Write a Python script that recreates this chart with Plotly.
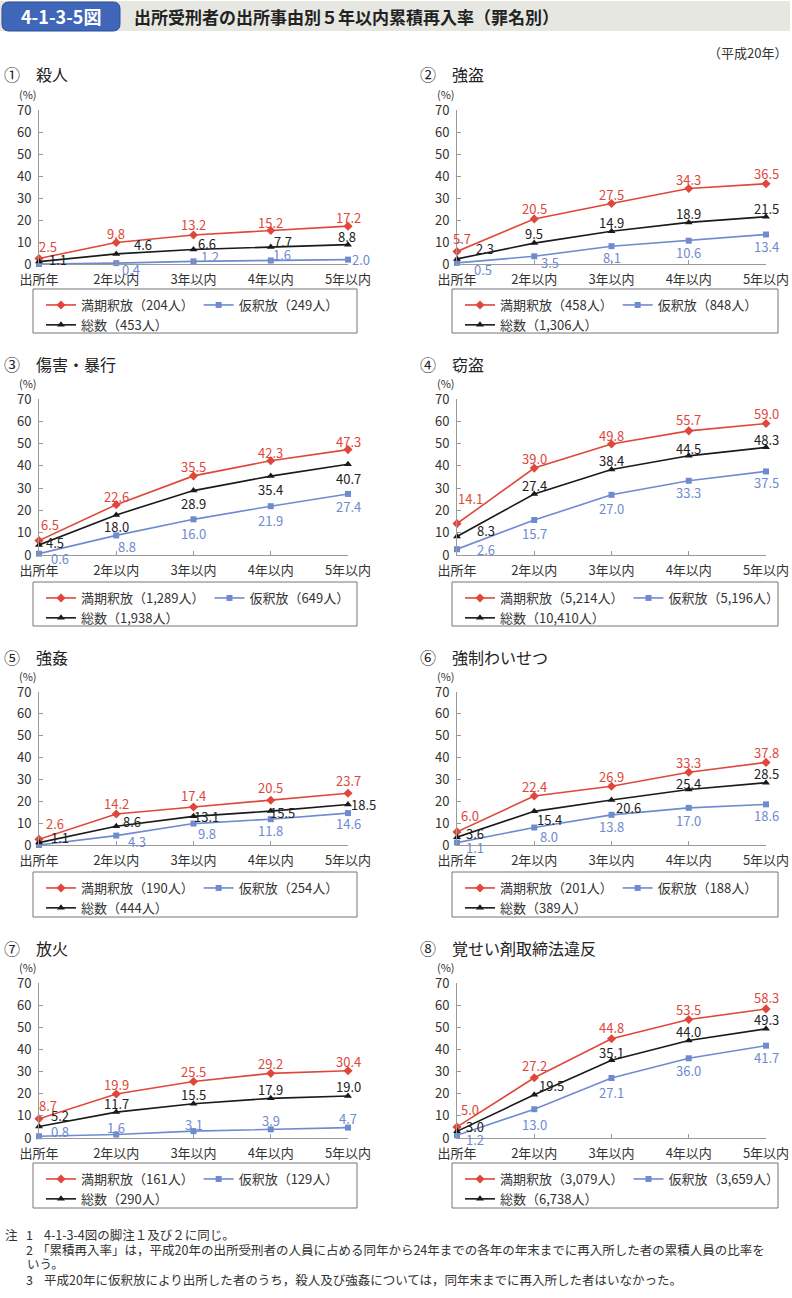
import plotly.graph_objects as go

W, H = 792, 1298
FONT = "Noto Sans CJK JP, Noto Sans, sans-serif"

# ---------------- data ----------------
categories = ["出所年", "2年以内", "3年以内", "4年以内", "5年以内"]

panel_titles = ["①　殺人", "②　強盗", "③　傷害・暴行", "④　窃盗",
                "⑤　強姦", "⑥　強制わいせつ", "⑦　放火", "⑧　覚せい剤取締法違反"]

manki_n = ["204", "458", "1,289", "5,214", "190", "201", "161", "3,079"]
kari_n = ["249", "848", "649", "5,196", "254", "188", "129", "3,659"]
total_n = ["453", "1,306", "1,938", "10,410", "444", "389", "290", "6,738"]

manki = [
    [2.5, 9.8, 13.2, 15.2, 17.2],
    [5.7, 20.5, 27.5, 34.3, 36.5],
    [6.5, 22.6, 35.5, 42.3, 47.3],
    [14.1, 39.0, 49.8, 55.7, 59.0],
    [2.6, 14.2, 17.4, 20.5, 23.7],
    [6.0, 22.4, 26.9, 33.3, 37.8],
    [8.7, 19.9, 25.5, 29.2, 30.4],
    [5.0, 27.2, 44.8, 53.5, 58.3],
]
kari = [
    [0.0, 0.4, 1.2, 1.6, 2.0],
    [0.5, 3.5, 8.1, 10.6, 13.4],
    [0.6, 8.8, 16.0, 21.9, 27.4],
    [2.6, 15.7, 27.0, 33.3, 37.5],
    [0.0, 4.3, 9.8, 11.8, 14.6],
    [1.1, 8.0, 13.8, 17.0, 18.6],
    [0.8, 1.6, 3.1, 3.9, 4.7],
    [1.2, 13.0, 27.1, 36.0, 41.7],
]
total = [
    [1.1, 4.6, 6.6, 7.7, 8.8],
    [2.3, 9.5, 14.9, 18.9, 21.5],
    [4.5, 18.0, 28.9, 35.4, 40.7],
    [8.3, 27.4, 38.4, 44.5, 48.3],
    [1.1, 8.6, 13.1, 15.5, 18.5],
    [3.6, 15.4, 20.6, 25.4, 28.5],
    [5.2, 11.7, 15.5, 17.9, 19.0],
    [3.0, 19.5, 35.1, 44.0, 49.3],
]
# points whose value label is not printed (no re-entry: note 3)
kari_hidden = [(0, 0), (4, 0)]

y_ticks = [0, 10, 20, 30, 40, 50, 60, 70]

notes = [
    ("注", "1", "4-1-3-4図の脚注１及び２に同じ。"),
    ("", "2", "「累積再入率」は，平成20年の出所受刑者の人員に占める同年から24年までの各年の年末までに再入所した者の累積人員の比率を"),
    ("", "", "いう。"),
    ("", "3", "平成20年に仮釈放により出所した者のうち，殺人及び強姦については，同年末までに再入所した者はいなかった。"),
]

# ---------------- label offsets (pixels: dx, dy up) ----------------
manki_off = [
    [(9, 12), (0, 9), (0, 10), (0, 8), (0, 9)],
    [(5, 13), (0, 10), (0, 9), (0, 9), (0, 10)],
    [(11, 16), (0, 8), (0, 9), (0, 8), (0, 8)],
    [(13, 25), (0, 10), (0, 9), (0, 11), (0, 10)],
    [(16, 16), (0, 10), (0, 11), (0, 13), (0, 13)],
    [(13, 16), (0, 10), (0, 10), (0, 10), (0, 10)],
    [(9, 13), (0, 9), (0, 10), (0, 10), (0, 9)],
    [(13, 17), (0, 12), (0, 11), (0, 10), (0, 11)],
]
total_off = [
    [(19, 2), (27, 9), (13, 6), (12, 6), (-1, 8)],
    [(28, 10), (0, 10), (0, 9), (0, 9), (0, 8)],
    [(16, 2), (0, -12), (0, -13), (0, -13), (0, -14)],
    [(29, 6), (0, 8), (0, 9), (0, 7), (0, 8)],
    [(21, 5), (16, 5), (13, 0), (12, -1), (15, 0)],
    [(18, 4), (15, -8), (17, -8), (0, 6), (0, 9)],
    [(21, 11), (0, 9), (0, 9), (0, 9), (0, 9)],
    [(18, 5), (17, 9), (0, 8), (0, 9), (0, 9)],
]
kari_off = [
    [(0, 0), (15, -6), (16, 5), (11, 6), (13, 0)],
    [(26, -7), (16, -6), (0, -11), (0, -12), (0, -12)],
    [(21, -5), (11, -11), (0, -14), (0, -14), (0, -13)],
    [(29, 0), (0, -13), (0, -14), (0, -12), (0, -11)],
    [(0, 0), (21, -6), (13, -10), (0, -11), (0, -10)],
    [(18, -5), (15, -9), (0, -12), (0, -13), (0, -11)],
    [(21, 5), (0, 7), (0, 7), (0, 9), (0, 9)],
    [(18, -4), (0, -15), (0, -15), (0, -12), (0, -12)],
]

# ---------------- styles / layout geometry ----------------
RED, BLUE, BLACK = "#e0473b", "#6f8bd0", "#1a1a1a"
RED_T, BLUE_T, BLACK_T = "#e0473b", "#6f8bd0", "#222222"
AXIS = "#9a9a9a"

col_x0 = [39, 457]
col_x4 = [348, 766]
row_y70 = [110, 399, 692, 983]
row_y0 = [264, 555, 845, 1138]
title_y = [74, 364, 657, 948]
title_x = [2, 418]
lbox_x = [(33, 357), (452, 778)]
lbox_y = [(289, 333), (582, 626), (872, 917), (1163, 1208)]


def px(x):
    return x / W


def py(y):
    return 1 - y / H


fig = go.Figure()
annotations = []
shapes = []
layout = {}

for i in range(8):
    r, c = divmod(i, 2)
    n = "" if i == 0 else str(i + 1)
    xa, ya = "x" + n, "y" + n
    lg = "legend" + n

    layout["xaxis" + n] = dict(
        domain=[px(col_x0[c]), px(col_x4[c])], anchor=ya, type="category",
        range=[0, 4], showline=True, linecolor=AXIS, linewidth=1,
        ticks="inside", ticklen=4, tickcolor=AXIS, showgrid=False, zeroline=False,
        tickfont=dict(size=13, color="#333", family=FONT), ticklabelstandoff=3,
        categoryorder="array", categoryarray=categories,
    )
    layout["yaxis" + n] = dict(
        domain=[py(row_y0[r]), py(row_y70[r])], anchor=xa, range=[0, 70],
        tickvals=y_ticks, showline=True, linecolor=AXIS, linewidth=1,
        ticks="inside", ticklen=4, tickcolor=AXIS, showgrid=False, zeroline=False,
        tickfont=dict(size=13, color="#333", family=FONT), ticklabelstandoff=4,
    )

    series = [
        ("満期釈放（%s人）" % manki_n[i], manki[i], RED, "diamond", 7, "a", manki_off[i], RED_T),
        ("仮釈放（%s人）" % kari_n[i], kari[i], BLUE, "square", 6, "b", kari_off[i], BLUE_T),
        ("総数（%s人）" % total_n[i], total[i], BLACK, "triangle-up", 7, "a", total_off[i], BLACK_T),
    ]
    for k, (name, vals, col, sym, ms, grp, offs, tcol) in enumerate(series):
        fig.add_trace(go.Scatter(
            x=categories, y=vals, name=name, mode="lines+markers",
            line=dict(color=col, width=1.6), marker=dict(symbol=sym, size=ms, color=col),
            xaxis=xa, yaxis=ya, legend=lg, legendgroup="%s%d" % (grp, i),
            cliponaxis=False, hoverinfo="skip",
        ))
        for j, v in enumerate(vals):
            if k == 1 and (i, j) in kari_hidden:
                continue
            dx, dy = offs[j]
            annotations.append(dict(
                x=categories[j], y=v, xref=xa, yref=ya, text="%.1f" % v,
                showarrow=False, xshift=dx, yshift=dy,
                font=dict(size=13, color=tcol, family=FONT),
            ))

    layout[lg] = dict(
        orientation="h", traceorder="grouped", tracegroupgap=14,
        x=px(lbox_x[c][0] + 8), y=py(lbox_y[r][0] + 1), xanchor="left", yanchor="top",
        bgcolor="rgba(0,0,0,0)", borderwidth=0, itemwidth=30,
        font=dict(size=13, color="#333", family=FONT),
    )

    # legend frame
    shapes.append(dict(type="rect", xref="paper", yref="paper",
                       x0=px(lbox_x[c][0]), x1=px(lbox_x[c][1]),
                       y0=py(lbox_y[r][1]), y1=py(lbox_y[r][0]),
                       line=dict(color="#777", width=1), fillcolor="rgba(0,0,0,0)"))

    # panel title
    annotations.append(dict(x=px(title_x[c]), y=py(title_y[r]), xref="paper", yref="paper",
                            text=panel_titles[i], showarrow=False, xanchor="left", yanchor="middle",
                            font=dict(size=16, color="#222", family=FONT)))
    # (%) unit
    annotations.append(dict(x=px(col_x0[c] - 11), y=py(row_y70[r] - 16), xref="paper", yref="paper",
                            text="(%)", showarrow=False, xanchor="center", yanchor="middle",
                            font=dict(size=11, color="#333", family=FONT)))

# ---------------- header ----------------
shapes.append(dict(type="rect", xref="paper", yref="paper", x0=px(0), x1=px(790),
                   y0=py(31), y1=py(1), line=dict(width=0), fillcolor="#e7e7e2", layer="below"))


def rounded(x0, y0, x1, y1, rr):
    return ("M %f,%f L %f,%f Q %f,%f %f,%f L %f,%f Q %f,%f %f,%f L %f,%f Q %f,%f %f,%f "
            "L %f,%f Q %f,%f %f,%f Z") % (
        px(x0 + rr), py(y0), px(x1 - rr), py(y0), px(x1), py(y0), px(x1), py(y0 + rr),
        px(x1), py(y1 - rr), px(x1), py(y1), px(x1 - rr), py(y1),
        px(x0 + rr), py(y1), px(x0), py(y1), px(x0), py(y1 - rr),
        px(x0), py(y0 + rr), px(x0), py(y0), px(x0 + rr), py(y0))


shapes.append(dict(type="path", xref="paper", yref="paper", path=rounded(2, 2, 120, 31, 7),
                   fillcolor="#3f66b8", line=dict(color="#2c4f98", width=1)))
annotations.append(dict(x=px(61), y=py(16.5), xref="paper", yref="paper", text="<b>4-1-3-5図</b>",
                        showarrow=False, xanchor="center", yanchor="middle",
                        font=dict(size=18, color="white", family=FONT)))
annotations.append(dict(x=px(132), y=py(16.5), xref="paper", yref="paper",
                        text="<b>出所受刑者の出所事由別５年以内累積再入率（罪名別）</b>",
                        showarrow=False, xanchor="left", yanchor="middle",
                        font=dict(size=17, color="#222", family=FONT)))
annotations.append(dict(x=px(789), y=py(53), xref="paper", yref="paper", text="（平成20年）",
                        showarrow=False, xanchor="right", yanchor="middle",
                        font=dict(size=13, color="#333", family=FONT)))

# ---------------- notes ----------------
note_y = [1234, 1249, 1263, 1279]
NOTE_FS = 12.5
for (a, b, t), yy in zip(notes, note_y):
    if a:
        annotations.append(dict(x=px(3), y=py(yy), xref="paper", yref="paper", text=a,
                                showarrow=False, xanchor="left", yanchor="middle",
                                font=dict(size=NOTE_FS, color="#333", family=FONT)))
    if b:
        annotations.append(dict(x=px(24), y=py(yy), xref="paper", yref="paper", text=b,
                                showarrow=False, xanchor="left", yanchor="middle",
                                font=dict(size=NOTE_FS, color="#333", family=FONT)))
    tx = 35 if t.startswith("「") else (25 if not b else 42)
    annotations.append(dict(x=px(tx), y=py(yy), xref="paper", yref="paper", text=t,
                            showarrow=False, xanchor="left", yanchor="middle",
                            font=dict(size=NOTE_FS, color="#333", family=FONT)))

fig.update_layout(
    width=W, height=H, margin=dict(l=0, r=0, t=0, b=0, autoexpand=False),
    paper_bgcolor="white", plot_bgcolor="white",
    font=dict(family=FONT, color="#333"),
    annotations=annotations, shapes=shapes, **layout,
)

fig.write_html(
    "out.html",
    config={"displayModeBar": False, "staticPlot": True},
    post_script="document.body.style.margin='0px';document.body.style.overflow='hidden';",
)
